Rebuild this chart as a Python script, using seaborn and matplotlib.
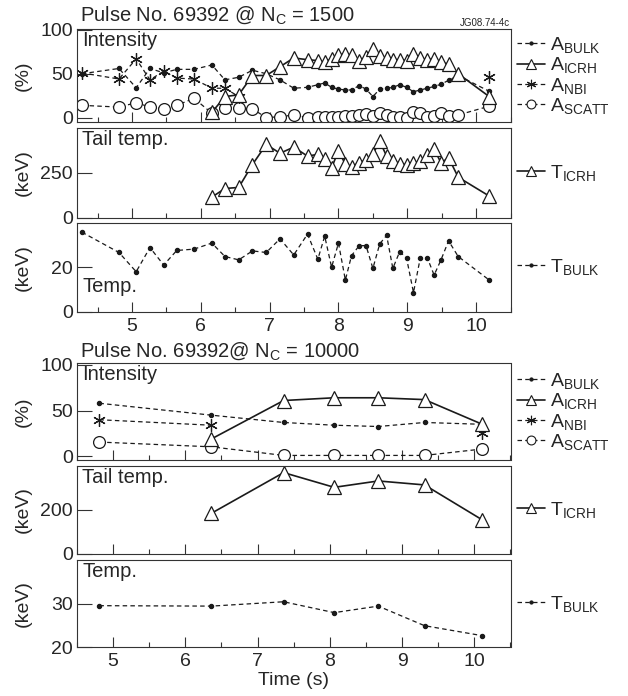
import numpy as np
import pandas as pd
import matplotlib
matplotlib.use("Agg")
import matplotlib.pyplot as plt
from matplotlib.lines import Line2D
import seaborn as sns

nan = np.nan

# ---- Pulse 69392, N_C = 1500 ----
t_top = [4.27, 4.81, 5.06, 5.26, 5.46, 5.65, 5.90, 6.16, 6.35, 6.55, 6.75, 6.95,
         7.15, 7.35, 7.55, 7.70, 7.80, 7.90, 8.00, 8.10, 8.19, 8.30, 8.40, 8.50,
         8.60, 8.70, 8.79, 8.89, 8.99, 9.09, 9.19, 9.29, 9.39, 9.49, 9.60, 9.74, 10.19]
abulk_top = [50, 56, 34, 56, 51, 55, 55, 60, 43, 46, 54, 50, 43, 33.5, 34.5, 37.5,
             39.5, 34.5, 32.5, 31.5, 31.5, 36.5, 32.5, 24, 32.5, 33.5, 34.5, 37.5,
             34.5, 29.5, 31.5, 33.5, 35.5, 38, 42.5, 48, 30]
aicrh_top = [nan] * 7 + [6, 24, 26, 48, 48, 58, 68, 66, 65, 63, 67, 71, 73, 71, 65,
                         69, 78, 70, 68, 66, 66, 65, 73, 68, 66, 67, 63, 61, 50, 24]
anbi_top = [51, 44, 67, 43, 53, 45, 44, 33.5, 33.5, 24] + [nan] * 26 + [46]
ascatt_top = [14, 12, 17, 12, 10, 14, 22, 5, 11, 11, 10, 0, 1, 3, 0, 1, 1, 1, 1, 2,
              2, 3, 4, 2, 5, 3, 1, 1, 0, 6, 5, 1, 2, 5, 2, 3, 13]
ticrh_top = [nan] * 7 + [114, 162, 168, 296, 408, 359, 393, 343, 353, 328, 277, 374,
                         297, 282, 307, 320, 355, 425, 343, 317, 301, 294, 307, 315,
                         349, 383, 305, 334, 225, 120]
tbulk_top = [35.7, 26.6, 18.0, 28.8, 21.0, 27.5, 28.1, 30.8, 24.8, 23.3, 27.3, 26.6,
             32.7, 25.5, 34.8, 23.6, 33.9, 20.0, 30.8, 14.3, 25.2, 29.6, 29.7, 19.5,
             30.5, 34.2, 19.5, 27.0, 24.0, 8.7, 24.3, 24.3, 16.5, 23.3, 31.8, 24.8, 14.3]

# ---- Pulse 69392, N_C = 10000 ----
t_bot = [4.81, 6.36, 7.36, 8.06, 8.67, 9.31, 10.11]
abulk_bot = [58, 45, 37, 34, 32.6, 37, 35]
aicrh_bot = [nan, 19, 61, 64, 64, 62, 35]
anbi_bot = [40, 34, nan, nan, nan, nan, 26]
ascatt_bot = [15.6, 10.4, 1, 1, 1, 1, 8]
ticrh_bot = [nan, 185, 370, 303, 332, 314, 155]
tbulk_bot = [29.5, 29.4, 30.4, 27.9, 29.4, 24.9, 22.6]

sns.set_theme(style="ticks")
plt.rcParams["font.family"] = ["Liberation Sans", "DejaVu Sans"]
plt.rcParams["mathtext.default"] = "regular"
plt.rcParams["axes.edgecolor"] = "#333333"
plt.rcParams["axes.linewidth"] = 0.8

INK = "#1a1a1a"
DASH = (0, (3.6, 2.6))
STY = {
    "bulk": dict(marker="o", ms=3, mfc=INK, mec=INK, ls=DASH, lw=0.9),
    "icrh": dict(marker="^", ms=9.5, mfc="white", mec=INK, ls="-", lw=1.2),
    "nbi": dict(marker=(6, 2, 0), ms=9, mfc=INK, mec=INK, ls=DASH, lw=0.9),
    "scatt": dict(marker="o", ms=8.5, mfc="white", mec=INK, ls=DASH, lw=0.9),
}


def draw(ax, t, v, kind):
    st = STY[kind]
    df = pd.DataFrame({"t": t, "v": v})
    ok = df["v"].notna()
    runs = (~ok).cumsum()
    for _, seg in df[ok].groupby(runs[ok]):
        sns.lineplot(data=seg, x="t", y="v", ax=ax, estimator=None, sort=False,
                     color=INK, linestyle=st["ls"], linewidth=st["lw"],
                     marker=st["marker"], markersize=st["ms"],
                     markerfacecolor=st["mfc"], markeredgecolor=st["mec"],
                     markeredgewidth=0.9)


def legend(ax, kinds, labels):
    handles = []
    for k in kinds:
        st = STY[k]
        handles.append(Line2D([], [], color=INK, linestyle=st["ls"], linewidth=st["lw"],
                              marker=st["marker"], markersize=st["ms"] * 0.75,
                              markerfacecolor=st["mfc"], markeredgecolor=st["mec"],
                              markeredgewidth=0.8))
    ax.legend(handles, labels, loc="center left", bbox_to_anchor=(1.015, 0.5),
              frameon=False, handlelength=1.45, handletextpad=0.25,
              labelspacing=0.02, fontsize=14, borderaxespad=0, borderpad=0)


def style(ax, xlim, ylim, yticks, ylab, showx):
    ax.set_xlim(*xlim)
    ax.set_ylim(*ylim)
    ax.set_xticks([5, 6, 7, 8, 9, 10])
    ax.set_xticks(np.arange(4.5, 10.6, 1.0), minor=True)
    ax.set_yticks(yticks)
    ax.tick_params(axis="x", which="major", direction="in", length=7, width=0.8,
                   labelsize=14, labelbottom=showx, color="#333333", pad=4)
    ax.tick_params(axis="x", which="minor", direction="in", length=3.5, width=0.8,
                   color="#333333")
    ax.tick_params(axis="y", direction="in", length=11, width=0.8, labelsize=14,
                   color="#333333", pad=3)
    ax.set_xlabel("")
    ax.set_ylabel(ylab, fontsize=14, labelpad=4)


W, H = 628, 696
fig = plt.figure(figsize=(W / 100, H / 100), dpi=100)


def box(top, bottom):
    return [77 / W, 1 - bottom / H, (510.5 - 77) / W, (bottom - top) / H]


xl_top = (4.2, 10.26)
xl_bot = (4.75, 10.23)

# top group
ax1 = fig.add_axes(box(29, 122))
ax2 = fig.add_axes(box(128, 217.5))
ax3 = fig.add_axes(box(222.5, 312))
# bottom group
ax4 = fig.add_axes(box(363, 460))
ax5 = fig.add_axes(box(466, 554))
ax6 = fig.add_axes(box(560, 647))

for ax, t, ab, ai, an, asc in [(ax1, t_top, abulk_top, aicrh_top, anbi_top, ascatt_top),
                               (ax4, t_bot, abulk_bot, aicrh_bot, anbi_bot, ascatt_bot)]:
    draw(ax, t, asc, "scatt")
    draw(ax, t, an, "nbi")
    draw(ax, t, ab, "bulk")
    draw(ax, t, ai, "icrh")
    legend(ax, ["bulk", "icrh", "nbi", "scatt"],
           ["A$_{BULK}$", "A$_{ICRH}$", "A$_{NBI}$", "A$_{SCATT}$"])

draw(ax2, t_top, ticrh_top, "icrh")
draw(ax5, t_bot, ticrh_bot, "icrh")
legend(ax2, ["icrh"], ["T$_{ICRH}$"])
legend(ax5, ["icrh"], ["T$_{ICRH}$"])
draw(ax3, t_top, tbulk_top, "bulk")
draw(ax6, t_bot, tbulk_bot, "bulk")
legend(ax3, ["bulk"], ["T$_{BULK}$"])
legend(ax6, ["bulk"], ["T$_{BULK}$"])

style(ax1, xl_top, (-5, 101), [0, 50, 100], "(%)", False)
style(ax2, xl_top, (0, 500), [0, 250], "(keV)", False)
style(ax3, xl_top, (0, 40), [0, 20], "(keV)", True)
style(ax4, xl_bot, (-4, 102), [0, 50, 100], "(%)", False)
style(ax5, xl_bot, (0, 400), [0, 200], "(keV)", False)
style(ax6, xl_bot, (20, 40), [20, 30], "(keV)", True)
ax6.set_xlabel("Time (s)", fontsize=14, labelpad=2)

for ax in (ax1, ax2, ax3, ax4, ax5, ax6):
    ax.yaxis.set_label_coords(-0.105, 0.5)

for ax, txt in [(ax1, "Intensity"), (ax2, "Tail temp."), (ax4, "Intensity"),
                (ax5, "Tail temp."), (ax6, "Temp.")]:
    ax.text(0.012, 0.98, txt, transform=ax.transAxes, ha="left", va="top", fontsize=14.5)
ax3.text(0.012, 0.28, "Temp.", transform=ax3.transAxes, ha="left", va="center",
         fontsize=14.5)

fig.text(80 / W, 1 - 21 / H, "Pulse No. 69392 @ N$_C$ = 1500", fontsize=14.5,
         ha="left", va="baseline")
fig.text(80 / W, 1 - 357 / H, "Pulse No. 69392@ N$_C$ = 10000", fontsize=14.5,
         ha="left", va="baseline")
fig.text(510 / W, 1 - 26 / H, "JG08.74-4c", fontsize=7, ha="right", va="baseline")

fig.savefig("out.png", dpi=100, facecolor="white")
